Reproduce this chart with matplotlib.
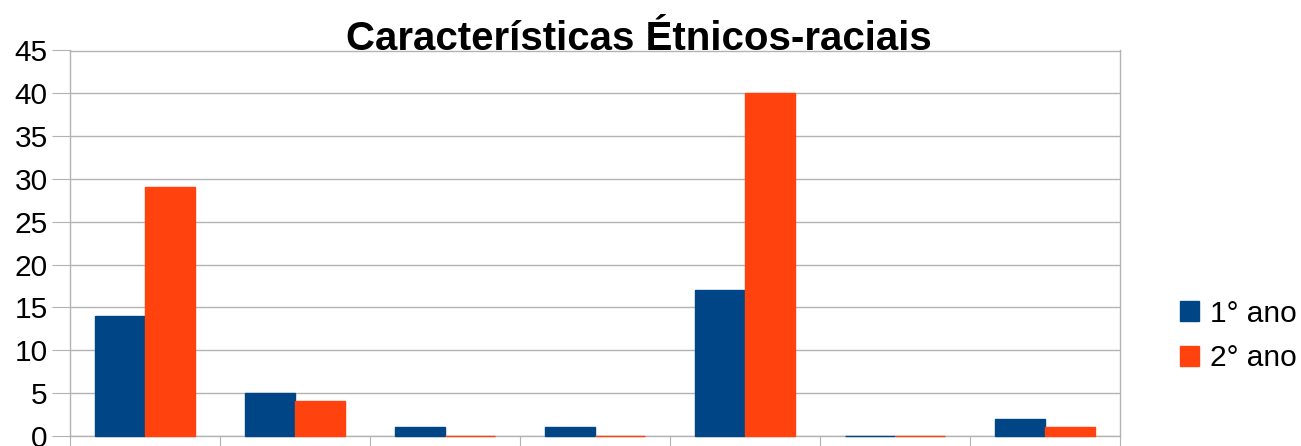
import numpy as np
import matplotlib
matplotlib.use('Agg')
import matplotlib.pyplot as plt

plt.rcParams['font.family'] = ['Liberation Sans', 'DejaVu Sans']

groups = ['', '', '', '', '', '', '']
ano1 = [14, 5, 1, 1, 17, 0, 2]
ano2 = [29, 4, 0, 0, 40, 0, 1]
series_names = ['1° ano', '2° ano']
colors = ['#004586', '#ff420e']
yticks = [0, 5, 10, 15, 20, 25, 30, 35, 40, 45]

fig = plt.figure(figsize=(13.01, 4.46), dpi=100)
ax = fig.add_axes([70 / 1301, 10.3 / 446, 1050 / 1301, 385.2 / 446])

x = np.arange(len(groups))
w = 1 / 3
ax.bar(x - w / 2, ano1, w, color=colors[0], edgecolor=colors[0], linewidth=1,
       label=series_names[0], zorder=3, clip_on=False)
ax.bar(x + w / 2, ano2, w, color=colors[1], edgecolor=colors[1], linewidth=1,
       label=series_names[1], zorder=3, clip_on=False)

ax.set_xlim(-0.5, len(groups) - 0.5)
ax.set_ylim(0, 45)
ax.set_yticks(yticks)
ax.set_xticks(np.arange(len(groups) + 1) - 0.5)
ax.set_xticklabels([''] * (len(groups) + 1))
ax.grid(axis='y', color='#b3b3b3', linewidth=1, zorder=0)
for s in ax.spines.values():
    s.set_color('#b3b3b3')
    s.set_linewidth(1)
ax.tick_params(axis='y', length=13, color='#b3b3b3', labelsize=21.5, pad=3)
ax.tick_params(axis='x', length=12, color='#b3b3b3')

fig.text(639 / 1301, 1 - 50 / 446, 'Características Étnicos-raciais', ha='center', va='baseline',
         fontsize=29, fontweight='bold')

leg = fig.legend(loc='center left', bbox_to_anchor=(1168 / 1301, 1 - 336 / 446), frameon=False,
                 fontsize=21.5, handlelength=0.65, handleheight=0.65, handletextpad=0.35,
                 labelspacing=0.55, borderaxespad=0)

fig.savefig('out.png', dpi=100)
